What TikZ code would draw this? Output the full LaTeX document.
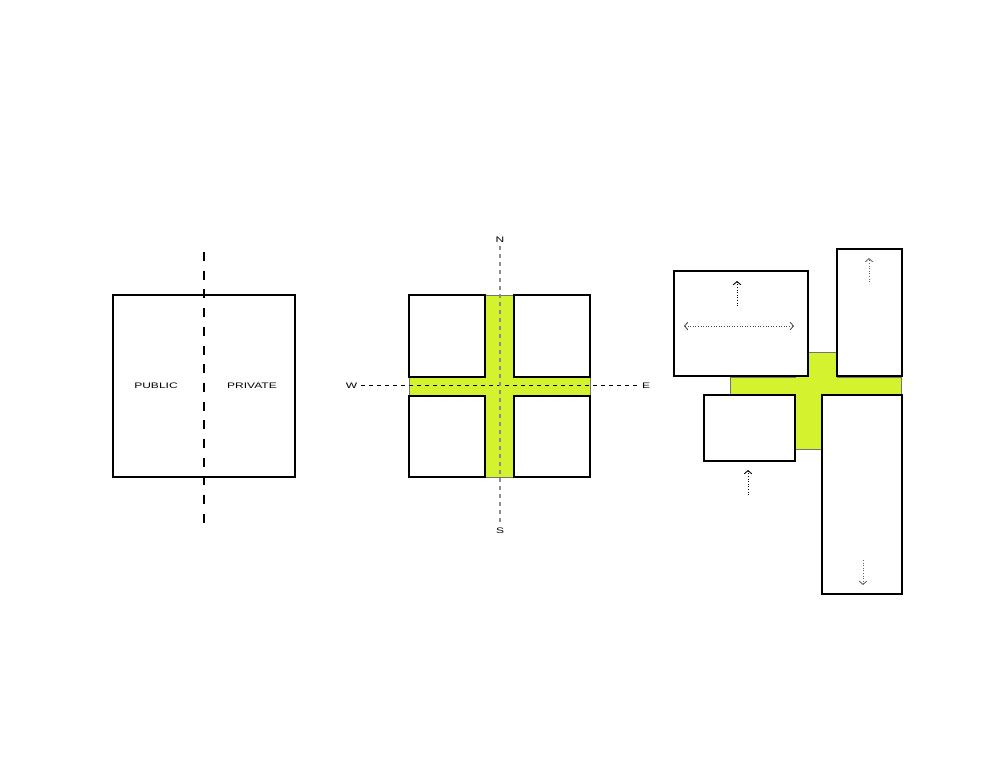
\documentclass[tikz,border=0pt]{standalone}
\usepackage{fontspec}
\setmainfont{Liberation Sans}
\newfontfamily\widefont[FakeStretch=1.5]{Liberation Sans}
\usetikzlibrary{arrows.meta, positioning}

\definecolor{lime}{RGB}{212,242,46}

\tikzset{
    block/.style={draw=black, fill=white, line width=1.5pt},
    limefill/.style={fill=lime, draw=black!55, line width=0.6pt},
    lbl/.style={font=\widefont\fontsize{8}{9.5}\selectfont, inner sep=3.5pt},
    move/.style={dash pattern=on 0.9pt off 1.7pt, line width=0.9pt},
    tip/.style={-{Straight Barb[length=3.2pt, width=7.5pt]}},
}

\begin{document}
\begin{tikzpicture}[x=1pt, y=-1pt]
    \useasboundingbox (0,0) rectangle (1000,773);

    % --- public / private ---
    \draw[block, fill=none] (113,295) rectangle (295,477);
    \coordinate (splittop) at (204,252);
    \coordinate (splitbot) at (204,523);
    \draw[line width=2pt, dash pattern=on 9pt off 9.7pt] (splittop) -- (splitbot);
    \node[lbl] (public) at (156,385.5) {PUBLIC};
    \node[lbl] (private) at (252,385.5) {PRIVATE};

    % --- cross with compass ---
    \draw[limefill] (485,295) -- (514,295) -- (514,377) -- (590,377) -- (590,396)
        -- (514,396) -- (514,477) -- (485,477) -- (485,396) -- (409,396)
        -- (409,377) -- (485,377) -- cycle;
    \foreach \xa/\ya/\xb/\yb in {409/295/485/377, 514/295/590/377, 409/396/485/477, 514/396/590/477}
        \draw[block] (\xa,\ya) rectangle (\xb,\yb);

    \node[lbl] (north) at (500,240) {N};
    \node[lbl] (south) at (500,531) {S};
    \node[lbl] (west) at (351.5,385.5) {W};
    \node[lbl] (east) at (646,385.5) {E};
    \draw[black, line width=1pt, dash pattern=on 4pt off 4pt] (west) -- (east);
    \draw[black!45, line width=1.4pt, dash pattern=on 4pt off 4pt] (north) -- (south);

    % --- shifted blocks ---
    \draw[limefill] (795,352) -- (837,352) -- (837,377) -- (901,377) -- (901,395)
        -- (837,395) -- (837,449) -- (795,449) -- (795,395) -- (730,395)
        -- (730,377) -- (795,377) -- cycle;
    \draw[block] (674,271) rectangle (808,376); % A
    \draw[block] (837,249) rectangle (902,376); % B
    \draw[block] (704,395) rectangle (795,461); % C
    \draw[block] (822,395) rectangle (902,594); % D

    % movement arrows
    \coordinate (aup0) at (737,306);   \coordinate (aup1) at (737,281);
    \coordinate (aleft) at (684,326);  \coordinate (aright) at (794,326);
    \coordinate (bup0) at (869,282);   \coordinate (bup1) at (869,258);
    \coordinate (cup0) at (748,495);   \coordinate (cup1) at (748,470);
    \coordinate (ddn0) at (863,560);   \coordinate (ddn1) at (863,585);
    \draw[move, tip] (aup0) -- (aup1);
    \draw[move, black!70, {Straight Barb[length=3.2pt, width=7.5pt]}-{Straight Barb[length=3.2pt, width=7.5pt]}] (aleft) -- (aright);
    \draw[move, black!60, tip] (bup0) -- (bup1);
    \draw[move, tip] (cup0) -- (cup1);
    \draw[move, black!60, tip] (ddn0) -- (ddn1);
\end{tikzpicture}
\end{document}
